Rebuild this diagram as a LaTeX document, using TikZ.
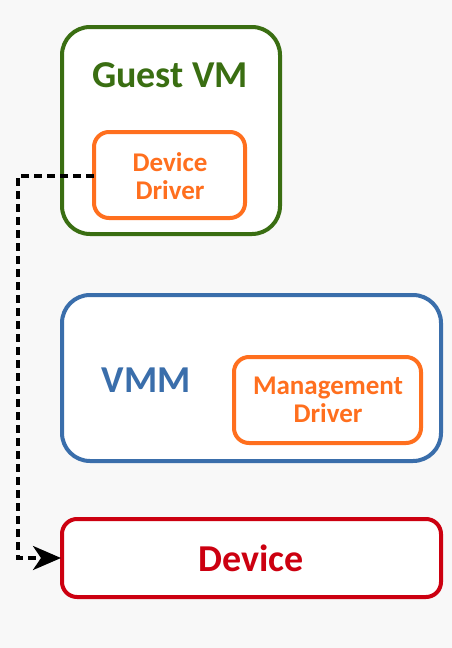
\documentclass[tikz,border=0pt]{standalone}
\usepackage{fontspec}
\setmainfont{Carlito}
\usetikzlibrary{arrows.meta}
\definecolor{bgc}{HTML}{F8F8F8}
\definecolor{gvm}{HTML}{3A6E12}
\definecolor{drv}{HTML}{FF6F1E}
\definecolor{vmm}{HTML}{3A6EAB}
\definecolor{dev}{HTML}{CC0010}
\tikzset{
  outer/.style={draw, line width=4pt, fill=white, rounded corners=28pt},
  inner/.style={draw=drv, line width=4pt, fill=white, rounded corners=15pt},
  bigtext/.style={font=\bfseries\fontsize{38}{44}\selectfont},
  smalltext/.style={font=\bfseries\fontsize{27}{32}\selectfont, text=drv, align=center},
  link/.style={dashed, dash pattern=on 8pt off 5pt, line width=3.5pt, -{Stealth[length=28pt,width=24pt,inset=8pt]}}
}
\begin{document}
\begin{tikzpicture}[x=1pt,y=-1pt]
\fill[bgc] (0,0) rectangle (452,648);
\useasboundingbox (0,0) rectangle (452,648);
% Guest VM
\draw[outer, draw=gvm] (62,27) rectangle (280,234);
\node[bigtext, text=gvm] (gvmlabel) at (170,75) {Guest VM};
\draw[inner] (94,132) rectangle (245,218);
\node[smalltext] (ddlabel) at (170,176) {Device\\[-4pt]Driver};
\coordinate (ddleft) at (94,176);
% VMM
\draw[outer, draw=vmm] (62,295) rectangle (441,461);
\node[bigtext, text=vmm] (vmmlabel) at (146,380) {VMM};
\draw[inner] (234,357) rectangle (421,443);
\node[smalltext] (mdlabel) at (328,400) {Management\\[-4pt]Driver};
% Device
\draw[outer, draw=dev, rounded corners=15pt] (62,519) rectangle (441,597);
\node[bigtext, text=dev] (devlabel) at (251,558) {Device};
\coordinate (devleft) at (61,558);
% dashed connector
\draw[link] (ddleft) -- (18,176) -- (18,558) -- (devleft);
\end{tikzpicture}
\end{document}
